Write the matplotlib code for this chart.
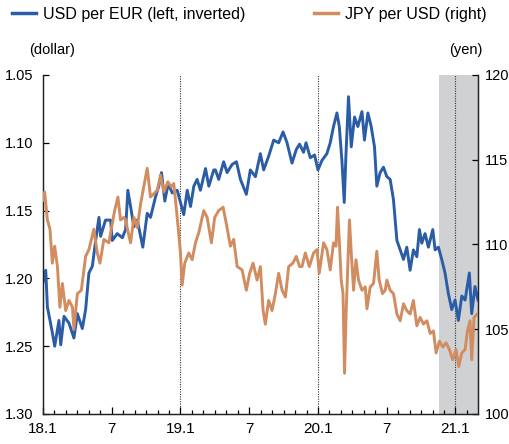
import matplotlib
matplotlib.use("Agg")
import matplotlib.pyplot as plt
from matplotlib.lines import Line2D
from matplotlib import font_manager

# fonts: Helvetica-like main font, narrow one for axis units / dates
namen = {f.name for f in font_manager.fontManager.ttflist}
glavna = 'Liberation Sans'
ozka = 'Liberation Sans Narrow' if 'Liberation Sans Narrow' in namen else 'Liberation Sans'
plt.rcParams['font.family'] = [glavna, 'DejaVu Sans']

########## podatki (cas v decimalnih letih) ####################################

usd_eur_t = [2018.000, 2018.020, 2018.032, 2018.068, 2018.085, 2018.116, 2018.129, 2018.153,
             2018.189, 2018.225, 2018.250, 2018.286, 2018.310, 2018.334, 2018.359, 2018.383,
             2018.407, 2018.419, 2018.455, 2018.492, 2018.504, 2018.540, 2018.577, 2018.601,
             2018.617, 2018.637, 2018.661, 2018.686, 2018.710, 2018.726, 2018.758, 2018.782,
             2018.818, 2018.842, 2018.862, 2018.886, 2018.911, 2018.940, 2018.976, 2019.000,
             2019.024, 2019.049, 2019.073, 2019.097, 2019.121, 2019.145, 2019.182, 2019.206,
             2019.242, 2019.254, 2019.278, 2019.314, 2019.339, 2019.375, 2019.407, 2019.436,
             2019.479, 2019.508, 2019.545, 2019.581, 2019.605, 2019.641, 2019.678, 2019.714,
             2019.746, 2019.775, 2019.811, 2019.842, 2019.866, 2019.895, 2019.913, 2019.944,
             2019.975, 2020.000, 2020.029, 2020.065, 2020.089, 2020.113, 2020.138, 2020.155,
             2020.174, 2020.191, 2020.203, 2020.222, 2020.242, 2020.266, 2020.290, 2020.320,
             2020.338, 2020.363, 2020.387, 2020.411, 2020.428, 2020.452, 2020.476, 2020.501,
             2020.525, 2020.549, 2020.574, 2020.598, 2020.622, 2020.646, 2020.670, 2020.694,
             2020.719, 2020.738, 2020.755, 2020.779, 2020.803, 2020.835, 2020.852, 2020.876,
             2020.900, 2020.924, 2020.948, 2020.973, 2020.997, 2021.021, 2021.046, 2021.070,
             2021.101, 2021.118, 2021.142, 2021.164]
usd_eur = [1.203, 1.194, 1.221, 1.240, 1.250, 1.231, 1.249, 1.228,
           1.233, 1.244, 1.226, 1.237, 1.223, 1.196, 1.191, 1.172,
           1.155, 1.169, 1.157, 1.157, 1.172, 1.167, 1.170, 1.164,
           1.135, 1.147, 1.162, 1.157, 1.169, 1.177, 1.152, 1.155,
           1.140, 1.132, 1.122, 1.143, 1.130, 1.137, 1.135, 1.144,
           1.153, 1.135, 1.147, 1.132, 1.127, 1.135, 1.119, 1.132,
           1.120, 1.120, 1.127, 1.114, 1.122, 1.116, 1.114, 1.127,
           1.138, 1.120, 1.125, 1.108, 1.120, 1.110, 1.098, 1.100,
           1.092, 1.100, 1.115, 1.105, 1.101, 1.107, 1.100, 1.111,
           1.109, 1.120, 1.113, 1.108, 1.100, 1.088, 1.078, 1.088,
           1.113, 1.144, 1.110, 1.066, 1.103, 1.081, 1.088, 1.077,
           1.098, 1.078, 1.088, 1.103, 1.132, 1.122, 1.118, 1.125,
           1.127, 1.142, 1.172, 1.179, 1.186, 1.177, 1.194, 1.179,
           1.184, 1.164, 1.174, 1.167, 1.177, 1.164, 1.179, 1.177,
           1.186, 1.196, 1.211, 1.223, 1.216, 1.231, 1.213, 1.216,
           1.196, 1.226, 1.206, 1.216]

jpy_usd_t = [2018.000, 2018.012, 2018.032, 2018.051, 2018.068, 2018.085, 2018.105, 2018.123,
             2018.141, 2018.165, 2018.189, 2018.214, 2018.225, 2018.250, 2018.279, 2018.310,
             2018.334, 2018.370, 2018.395, 2018.414, 2018.443, 2018.479, 2018.521, 2018.545,
             2018.564, 2018.588, 2018.601, 2018.625, 2018.637, 2018.661, 2018.686, 2018.710,
             2018.733, 2018.758, 2018.782, 2018.806, 2018.831, 2018.855, 2018.879, 2018.908,
             2018.932, 2018.951, 2018.964, 2018.983, 2019.000, 2019.012, 2019.031, 2019.060,
             2019.085, 2019.109, 2019.133, 2019.169, 2019.194, 2019.225, 2019.249, 2019.278,
             2019.310, 2019.334, 2019.363, 2019.387, 2019.412, 2019.448, 2019.479, 2019.503,
             2019.528, 2019.557, 2019.581, 2019.601, 2019.617, 2019.641, 2019.666, 2019.690,
             2019.714, 2019.739, 2019.763, 2019.787, 2019.818, 2019.842, 2019.866, 2019.884,
             2019.908, 2019.937, 2019.968, 2019.993, 2020.009, 2020.041, 2020.065, 2020.089,
             2020.113, 2020.131, 2020.142, 2020.157, 2020.169, 2020.182, 2020.193, 2020.206,
             2020.218, 2020.229, 2020.242, 2020.259, 2020.276, 2020.295, 2020.320, 2020.344,
             2020.356, 2020.380, 2020.404, 2020.428, 2020.445, 2020.469, 2020.489, 2020.501,
             2020.525, 2020.549, 2020.574, 2020.598, 2020.622, 2020.646, 2020.670, 2020.694,
             2020.719, 2020.743, 2020.767, 2020.792, 2020.816, 2020.840, 2020.859, 2020.883,
             2020.908, 2020.932, 2020.956, 2020.980, 2021.004, 2021.024, 2021.046, 2021.070,
             2021.087, 2021.106, 2021.118, 2021.135, 2021.159]
jpy_usd = [112.6, 113.1, 111.45, 110.9, 108.9, 109.9, 108.7, 106.3,
           107.7, 106.1, 106.7, 106.3, 105.0, 107.1, 107.3, 109.3,
           109.7, 110.9, 109.5, 108.9, 110.3, 110.1, 112.0, 112.8,
           111.45, 111.6, 111.45, 110.5, 110.1, 111.6, 111.0, 112.4,
           113.4, 114.5, 112.8, 113.0, 113.2, 114.1, 113.1, 113.7,
           113.4, 113.6, 112.6, 111.0, 109.5, 107.6, 108.9, 109.5,
           109.1, 110.1, 110.7, 112.0, 111.6, 110.1, 111.6, 112.0,
           112.2, 111.2, 109.9, 110.3, 108.7, 108.5, 107.3, 108.3,
           108.9, 107.9, 108.7, 106.1, 105.3, 106.7, 106.1, 107.1,
           108.3, 107.3, 106.9, 108.7, 108.9, 109.3, 108.7, 108.7,
           109.5, 108.7, 109.5, 109.7, 108.3, 110.1, 109.7, 108.5,
           110.1, 109.9, 112.2, 109.9, 107.9, 107.1, 102.4, 106.3,
           108.9, 111.45, 109.5, 107.3, 109.1, 107.9, 107.3, 107.5,
           106.2, 107.5, 107.7, 109.6, 107.9, 107.1, 107.3, 107.9,
           107.3, 107.1, 105.9, 105.5, 106.5, 106.1, 105.9, 106.7,
           105.2, 105.7, 105.3, 105.5, 104.75, 104.9, 103.6, 104.3,
           103.95, 104.2, 103.8, 103.2, 103.8, 102.8, 103.6, 103.8,
           104.9, 105.5, 103.2, 105.7, 105.9]

zacetek_x, konec_x = 2018.0, 2021.164
sivo_od = 2020.883                       # zasenceno obdobje
crte_let = [2019.0, 2020.0, 2021.0]      # pikcaste navpicnice

oznake_let = {2018: '18.1', 2019: '19.1', 2020: '20.1', 2021: '21.1'}

########## risanje ##############################################################

modra = '#2b5ca6'
oranzna = '#d18c60'

fig = plt.figure(figsize=(5.10, 4.44), dpi=100)
ax = fig.add_axes([0.0843, 0.0676, 0.853, 0.7635])
ax2 = ax.twinx()

ax.axvspan(sivo_od, konec_x, color='#d0d1d3', lw=0, zorder=0)
for x in crte_let:
    ax.axvline(x, color='#333333', lw=0.8, ls=(0, (1, 1.2)), zorder=1)

ax.plot(usd_eur_t, usd_eur, color=modra, lw=2.1, zorder=3)
ax2.plot(jpy_usd_t, jpy_usd, color=oranzna, lw=2.1, zorder=3)

ax.set_xlim(zacetek_x, konec_x)
ax.set_ylim(1.30, 1.05)
ax2.set_ylim(100, 120)

ax.set_yticks([1.05, 1.10, 1.15, 1.20, 1.25, 1.30])
ax.set_yticklabels(['%.2f' % v for v in [1.05, 1.10, 1.15, 1.20, 1.25, 1.30]])
ax2.set_yticks([100, 105, 110, 115, 120])

# meseci: veliki tiki jan in jul, mali ostali
veliki, male, oznake = [], [], []
for leto in range(2018, 2022):
    for mesec in range(1, 13):
        t = leto + (mesec - 1) / 12
        if t > konec_x:
            break
        if mesec == 1:
            veliki.append(t)
            oznake.append(oznake_let[leto])
        elif mesec == 7:
            veliki.append(t)
            oznake.append('7')
        else:
            male.append(t)
ax.set_xticks(veliki)
ax.set_xticklabels(oznake, family=[ozka, glavna], fontsize=11)
ax.set_xticks(male, minor=True)

ax.tick_params(axis='x', which='major', direction='in', length=5, width=0.9, pad=6)
ax.tick_params(axis='x', which='minor', direction='in', length=3, width=0.9)
ax.tick_params(axis='y', direction='in', length=4, width=0.9, labelsize=10.5, pad=7)
ax2.tick_params(axis='y', direction='in', length=4, width=0.9, labelsize=10.5, pad=5)

for a in (ax, ax2):
    a.spines['top'].set_visible(False)
    for s in ('left', 'right', 'bottom'):
        a.spines[s].set_linewidth(0.9)
        a.spines[s].set_color('#222222')

fig.text(0.102, 0.887, '(dollar)', ha='center', va='center', family=[ozka, glavna], fontsize=10.5)
fig.text(0.914, 0.887, '(yen)', ha='center', va='center', family=[ozka, glavna], fontsize=10.5)

rocaji = [Line2D([0], [0], color=modra, lw=2.5), Line2D([0], [0], color=oranzna, lw=2.5)]
fig.legend(rocaji, ['USD per EUR (left, inverted)', 'JPY per USD (right)'],
           loc='center left', bbox_to_anchor=(0.0235, 0.968), ncol=2, frameon=False,
           borderpad=0, borderaxespad=0,
           fontsize=11.5, handlelength=1.5, handletextpad=0.45, columnspacing=4.3)

plt.savefig('out.png', dpi=100)
